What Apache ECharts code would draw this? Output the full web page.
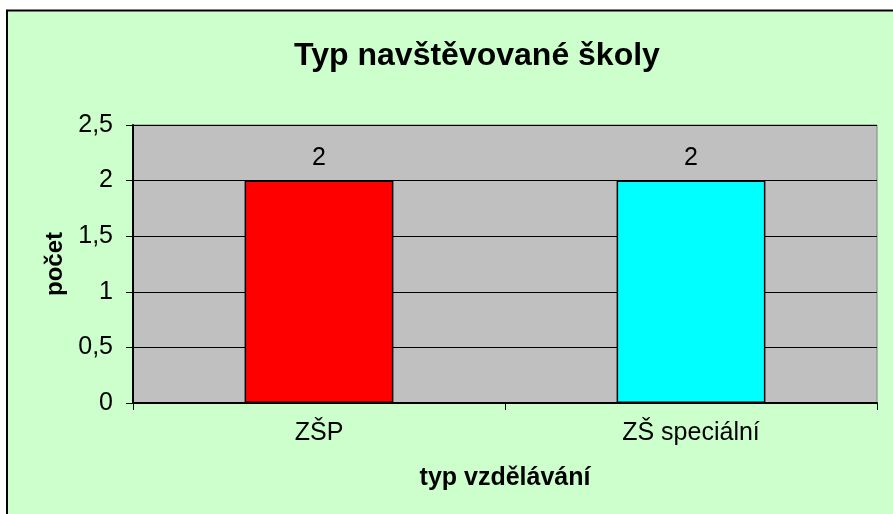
<!DOCTYPE html>
<html>
<head>
<meta charset="utf-8">
<script src="https://cdn.jsdelivr.net/npm/echarts@6/dist/echarts.min.js"></script>
<style>
  html, body { margin: 0; padding: 0; background: #fff; }
  #main { width: 893px; height: 514px; }
</style>
</head>
<body>
<div id="main"></div>
<script>
// data
var categories = ['ZŠP', 'ZŠ speciální'];
var values = [2, 2];
var barColors = ['#FF0000', '#00FFFF'];

var font = '"Liberation Sans", Arial, sans-serif';

var myChart = echarts.init(document.getElementById('main'));
var option = {
  backgroundColor: '#fff',
  animation: false,
  // green chart area with black frame (cropped on right/bottom)
  graphic: [{
    type: 'rect',
    z: -100,
    shape: { x: 7, y: 10.5, width: 1000, height: 1000 },
    style: { fill: '#CCFFCC', stroke: '#000', lineWidth: 2 }
  }],
  title: {
    text: 'Typ navštěvované školy',
    left: 472,
    textAlign: 'center',
    top: 35,
    textStyle: { fontFamily: font, fontSize: 32, fontWeight: 'bold', color: '#000' }
  },
  grid: {
    left: 133,
    right: 16,
    top: 125,
    bottom: 111,
    show: true,
    backgroundColor: '#C0C0C0',
    borderColor: '#808080',
    borderWidth: 1
  },
  xAxis: {
    type: 'category',
    data: categories,
    name: 'typ vzdělávání',
    nameLocation: 'middle',
    nameGap: 63,
    nameTextStyle: { fontFamily: font, fontSize: 25, fontWeight: 'bold', color: '#000' },
    axisLine: { lineStyle: { color: '#000', width: 2 } },
    axisTick: { show: true, length: 7, alignWithLabel: false, lineStyle: { color: '#000', width: 1 } },
    axisLabel: { margin: 18, fontFamily: font, fontSize: 25, color: '#000' },
    splitLine: { show: false }
  },
  yAxis: {
    type: 'value',
    min: 0,
    max: 2.5,
    interval: 0.5,
    name: 'počet',
    nameLocation: 'middle',
    nameGap: 60,
    nameTextStyle: { fontFamily: font, fontSize: 24, fontWeight: 'bold', color: '#000' },
    axisLine: { show: true, lineStyle: { color: '#000', width: 2 } },
    axisTick: { show: true, length: 7, lineStyle: { color: '#000', width: 1 } },
    axisLabel: {
      margin: 20,
      fontFamily: font,
      fontSize: 25,
      color: '#000',
      formatter: function (v) { return String(v).replace('.', ','); }
    },
    splitLine: { show: true, lineStyle: { color: '#000', width: 1 } }
  },
  series: [{
    type: 'bar',
    barWidth: '40%',
    data: values.map(function (v, i) {
      return { value: v, itemStyle: { color: barColors[i] } };
    }),
    itemStyle: { borderColor: '#000', borderWidth: 1.5 },
    label: {
      show: true,
      position: 'top',
      distance: 10,
      fontFamily: font,
      fontSize: 25,
      color: '#000'
    }
  }]
};
myChart.setOption(option);
</script>
</body>
</html>
